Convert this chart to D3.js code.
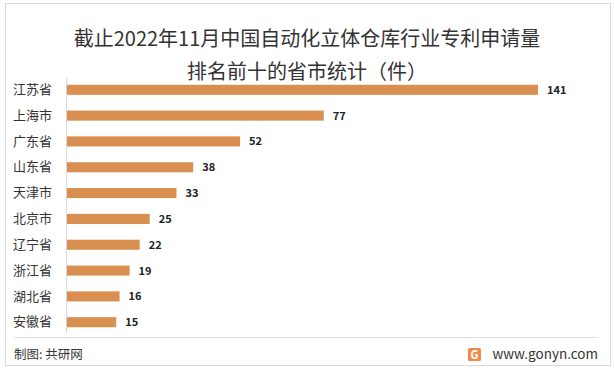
<html>
<head>
<meta charset="utf-8">
<title>自动化立体仓库专利申请量</title>
<script src="https://d3js.org/d3.v7.min.js"></script>
<style>
	body { margin: 0; padding: 0; background: #fff; }
	svg text { font-family: "Noto Sans CJK SC", "Noto Sans", sans-serif; }
</style>
</head>
<body>
<div id="chart"></div>
<script>
var titleLines = ["截止2022年11月中国自动化立体仓库行业专利申请量", "排名前十的省市统计（件）"];
var provinces = ["江苏省", "上海市", "广东省", "山东省", "天津市", "北京市", "辽宁省", "浙江省", "湖北省", "安徽省"];
var patents = [141, 77, 52, 38, 33, 25, 22, 19, 16, 15];
var source = "制图: 共研网";
var site = "www.gonyn.com";

var w = 614, h = 370;

var svg = d3.select("#chart").append("svg")
	.attr("width", w)
	.attr("height", h);

// frame
svg.append("rect")
	.attr("x", 5.5).attr("y", 3.5)
	.attr("width", 605).attr("height", 362)
	.attr("fill", "#fff")
	.attr("stroke", "#d9d9d9");

svg.selectAll(".title")
	.data(titleLines)
	.enter().append("text")
	.attr("class", "title")
	.attr("x", 307)
	.attr("y", function(d, i) { return 46 + i * 33; })
	.attr("text-anchor", "middle")
	.attr("font-size", 20)
	.attr("fill", "#333")
	.text(function(d) { return d; });

var x = d3.scaleLinear()
	.domain([0, 141])
	.range([66, 538]);

var y = d3.scaleBand()
	.domain(provinces)
	.range([77, 335])
	.paddingInner(0.61)
	.paddingOuter(0.3);

// axis
var axis = svg.append("g")
	.attr("transform", "translate(66,0)")
	.call(d3.axisLeft(y).tickSize(0).tickPadding(14));
axis.select(".domain").attr("stroke", "#d9d9d9").attr("d", "M0.5,78V333");
axis.selectAll("text")
	.attr("font-size", 13)
	.attr("fill", "#333");

svg.selectAll(".bar")
	.data(provinces)
	.enter().append("rect")
	.attr("class", "bar")
	.attr("x", x(0) + 1)
	.attr("y", function(d) { return y(d); })
	.attr("width", function(d, i) { return x(patents[i]) - x(0) - 1; })
	.attr("height", y.bandwidth())
	.attr("fill", "#d98f4f");

svg.selectAll(".val")
	.data(provinces)
	.enter().append("text")
	.attr("class", "val")
	.attr("x", function(d, i) { return x(patents[i]) + 9; })
	.attr("y", function(d) { return y(d) + y.bandwidth() / 2; })
	.attr("dy", "0.36em")
	.attr("font-size", 11)
	.attr("font-weight", "bold")
	.attr("fill", "#222")
	.text(function(d, i) { return patents[i]; });

// footer
svg.append("line")
	.attr("x1", 14).attr("x2", 598)
	.attr("y1", 337.5).attr("y2", 337.5)
	.attr("stroke", "#e0e0e0");

svg.append("text")
	.attr("x", 14).attr("y", 359)
	.attr("font-size", 12.5)
	.attr("fill", "#333")
	.text(source);

svg.append("rect")
	.attr("x", 468).attr("y", 348)
	.attr("width", 13).attr("height", 13)
	.attr("rx", 1.5)
	.attr("fill", "#f08a4b");
svg.append("text")
	.attr("x", 474.5).attr("y", 358.5)
	.attr("text-anchor", "middle")
	.attr("font-size", 11)
	.attr("font-weight", "bold")
	.attr("fill", "#fff")
	.text("G");

svg.append("text")
	.attr("x", 598).attr("y", 359)
	.attr("text-anchor", "end")
	.attr("font-size", 13.5)
	.attr("fill", "#333")
	.text(site);
</script>
</body>
</html>
